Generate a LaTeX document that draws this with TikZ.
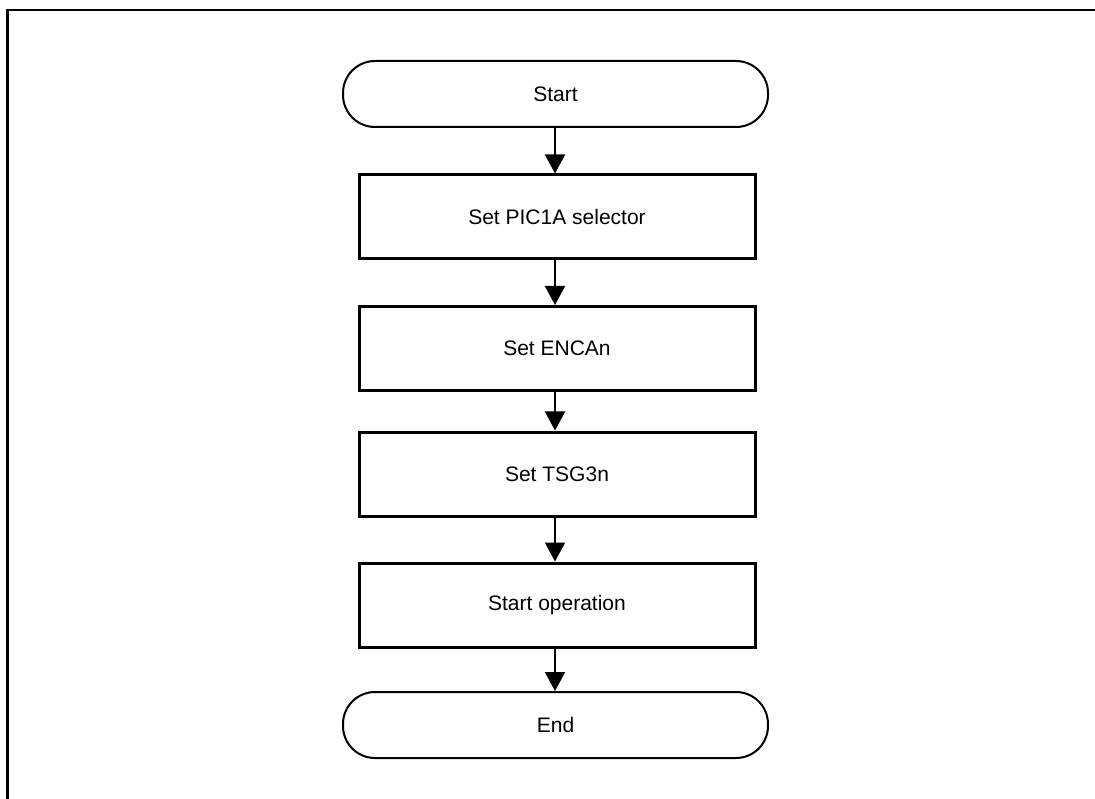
\documentclass[tikz,border=0pt]{standalone}
\usepackage{fontspec}
\setmainfont{Liberation Sans}
\usetikzlibrary{arrows.meta}
\begin{document}
\begin{tikzpicture}[x=1pt,y=-1pt,
  term/.style={draw,line width=2pt,rounded corners=32pt,minimum width=425pt,minimum height=66pt,inner sep=0pt,font=\fontsize{21}{25}\selectfont},
  procbox/.style={draw,line width=3pt,minimum width=396pt,minimum height=84pt,inner sep=0pt,font=\fontsize{21}{25}\selectfont},
  flow/.style={line width=2pt,-{Triangle[length=19pt,width=20pt]}}]
\useasboundingbox (0,0) rectangle (1095,799);
\draw[line width=2.5pt] (7.5,799) -- (7.5,10) -- (1095,10);
\node[term] (start) at (555.5,94) {Start};
\node[procbox] (b1) at (557,217) {Set PIC1A selector};
\node[procbox] (b2) at (557,348.5) {Set ENCAn};
\node[procbox] (b3) at (557,474) {Set TSG3n};
\node[procbox] (b4) at (557,605) {Start operation};
\node[term] (end) at (555.5,725) {End};
\draw[flow] (start.south -| 555,0) -- (b1.north -| 555,0);
\draw[flow] (b1.south -| 555,0) -- (b2.north -| 555,0);
\draw[flow] (b2.south -| 555,0) -- (b3.north -| 555,0);
\draw[flow] (b3.south -| 555,0) -- (b4.north -| 555,0);
\draw[flow] (b4.south -| 555,0) -- (end.north -| 555,0);
\end{tikzpicture}
\end{document}
